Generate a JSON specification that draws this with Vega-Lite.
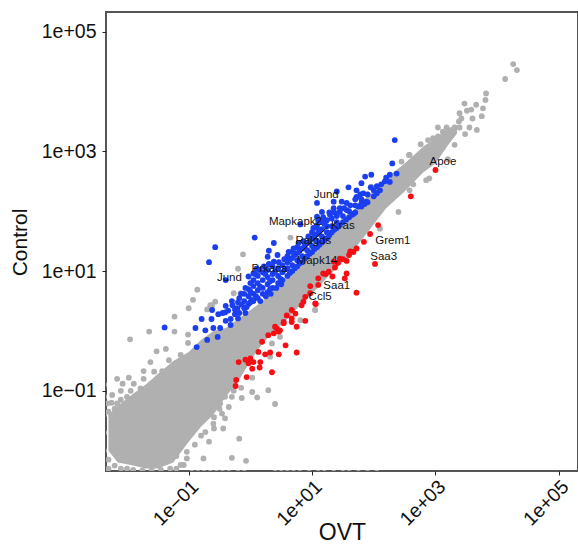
{"$schema":"https://vega.github.io/schema/vega-lite/v6.json","width":472,"height":459,"autosize":{"type":"none"},"padding":{"left":106,"top":12,"right":0,"bottom":74},"background":"white","view":{"stroke":"#555555","strokeWidth":2,"fill":"white"},
"datasets":{
"core":[{"x":-2.3,"lo":-2.0,"hi":-1.4},{"x":-2.15,"lo":-2.2,"hi":-1.25},{"x":-1.9,"lo":-2.25,"hi":-1.05},{"x":-1.7,"lo":-2.3,"hi":-0.9},{"x":-1.5,"lo":-2.3,"hi":-0.72},{"x":-1.25,"lo":-2.2,"hi":-0.5},{"x":-1.0,"lo":-1.85,"hi":-0.35},{"x":-0.8,"lo":-1.6,"hi":-0.15},{"x":-0.6,"lo":-1.4,"hi":0.0},{"x":-0.4,"lo":-1.1,"hi":0.05},{"x":-0.2,"lo":-0.85,"hi":0.2},{"x":0,"lo":-0.5,"hi":0.35},{"x":0.2,"lo":-0.2,"hi":0.5},{"x":0.4,"lo":0.0,"hi":0.7},{"x":0.6,"lo":0.2,"hi":0.9},{"x":0.8,"lo":0.42,"hi":1.15},{"x":1.0,"lo":0.62,"hi":1.3},{"x":1.3,"lo":0.95,"hi":1.65},{"x":1.6,"lo":1.25,"hi":1.95},{"x":1.9,"lo":1.65,"hi":2.25},{"x":2.2,"lo":2.05,"hi":2.55},{"x":2.5,"lo":2.33,"hi":2.8},{"x":2.8,"lo":2.65,"hi":3.08},{"x":3.0,"lo":2.8,"hi":3.22},{"x":3.2,"lo":3.1,"hi":3.38},{"x":3.35,"lo":3.3,"hi":3.42}],
"gray":[{"x":4.26,"y":4.46},{"x":4.32,"y":4.36},{"x":4.13,"y":4.21},{"x":3.82,"y":3.97},{"x":3.81,"y":3.86},{"x":3.47,"y":3.8},{"x":3.77,"y":3.72},{"x":3.66,"y":3.78},{"x":3.58,"y":3.7},{"x":3.51,"y":3.68},{"x":3.39,"y":3.64},{"x":3.42,"y":3.55},{"x":3.6,"y":3.55},{"x":3.75,"y":3.59},{"x":3.38,"y":3.5},{"x":3.55,"y":3.4},{"x":3.67,"y":3.36},{"x":3.48,"y":3.29},{"x":3.04,"y":3.4},{"x":3.18,"y":3.4},{"x":3.31,"y":3.4},{"x":3.39,"y":3.4},{"x":3.26,"y":3.36},{"x":3.12,"y":3.33},{"x":2.96,"y":3.22},{"x":3.04,"y":3.25},{"x":2.88,"y":3.19},{"x":2.76,"y":3.12},{"x":3.31,"y":3.11},{"x":3.12,"y":3.13},{"x":2.57,"y":2.94},{"x":3.2,"y":2.87},{"x":2.99,"y":2.97},{"x":2.9,"y":2.55},{"x":2.85,"y":2.52},{"x":2.64,"y":2.45},{"x":2.45,"y":2.83},{"x":2.4,"y":1.99},{"x":2.1,"y":1.71},{"x":2.58,"y":2.94},{"x":1.05,"y":0.35},{"x":0.81,"y":0.46},{"x":0.65,"y":1.56},{"x":-0.12,"y":1.28},{"x":-0.2,"y":1.04},{"x":-0.86,"y":0.69},{"x":-0.93,"y":0.52},{"x":-0.57,"y":0.49},{"x":-0.65,"y":0.43},{"x":-0.27,"y":0.63},{"x":-0.16,"y":0.63},{"x":0.11,"y":0.96},{"x":1.96,"y":2.41},{"x":2.58,"y":2.35},{"x":-1.23,"y":0.24},{"x":-1.64,"y":-0.01},{"x":-1.95,"y":-0.14},{"x":-1.23,"y":-0.01},{"x":-1.01,"y":-0.06},{"x":-1.01,"y":-0.2},{"x":-1.0,"y":0.38},{"x":-0.7,"y":0.36},{"x":-0.62,"y":0.43},{"x":-1.52,"y":-0.34},{"x":-1.37,"y":-0.3},{"x":-1.62,"y":-0.52},{"x":-1.73,"y":-0.67},{"x":-1.56,"y":-0.68},{"x":-1.43,"y":-0.67},{"x":-1.32,"y":-0.49},{"x":-1.13,"y":-0.4},{"x":-2.16,"y":-0.8},{"x":-1.97,"y":-0.78},{"x":-2.07,"y":-0.88},{"x":-1.73,"y":-0.8},{"x":-1.89,"y":-0.88},{"x":-2.1,"y":-1.0},{"x":-2.24,"y":-1.07},{"x":-1.94,"y":-1.0},{"x":-1.78,"y":-0.96},{"x":-2.32,"y":-1.21},{"x":-2.16,"y":-1.21},{"x":0.29,"y":-0.99},{"x":0.03,"y":-1.02},{"x":0.11,"y":-1.11},{"x":-0.14,"y":-1.12},{"x":0.4,"y":-1.22},{"x":-0.27,"y":-1.0},{"x":-0.35,"y":-1.27},{"x":-0.46,"y":-1.38},{"x":-0.41,"y":-1.46},{"x":-0.44,"y":-1.63},{"x":-0.59,"y":-1.63},{"x":-0.73,"y":-1.69},{"x":-0.67,"y":-1.85},{"x":-0.18,"y":-1.8},{"x":-0.3,"y":-2.12},{"x":-0.76,"y":-2.13},{"x":-0.07,"y":-2.17},{"x":-1.03,"y":-2.02},{"x":-1.2,"y":-2.09},{"x":-1.03,"y":-2.13},{"x":-1.13,"y":-2.24},{"x":-1.08,"y":-2.24},{"x":-1.29,"y":-1.94},{"x":-0.59,"y":-1.44},{"x":-0.49,"y":-1.21},{"x":0.32,"y":-0.43},{"x":0.03,"y":-0.78},{"x":0.35,"y":-0.21},{"x":0.48,"y":-0.1},{"x":0.81,"y":0.18},{"x":1.05,"y":0.35},{"x":-0.41,"y":-1.1},{"x":-0.9,"y":-1.9},{"x":-0.8,"y":-1.75},{"x":-0.6,"y":-1.55},{"x":-0.5,"y":-1.3},{"x":-0.3,"y":-1.1},{"x":-0.15,"y":-0.95},{"x":-2.3,"y":-1.35},{"x":-2.3,"y":-2.15},{"x":-2.3,"y":-2.3},{"x":-2.2,"y":-1.3},{"x":-2.2,"y":-2.25},{"x":-2.1,"y":-1.15},{"x":-2.1,"y":-2.3},{"x":-2.0,"y":-1.1},{"x":-2.0,"y":-2.3},{"x":-2.25,"y":-1.2},{"x":-1.9,"y":-2.32},{"x":-1.75,"y":-2.33},{"x":-1.6,"y":-2.33},{"x":-1.45,"y":-2.32},{"x":-1.3,"y":-2.3},{"x":-1.2,"y":-2.3},{"x":-2.37,"y":-0.9},{"x":-2.37,"y":-1.1},{"x":-2.37,"y":-1.4},{"x":-2.37,"y":-1.7},{"x":-2.37,"y":-2.0},{"x":-0.95,"y":-2.37},{"x":-0.85,"y":-2.37},{"x":-0.75,"y":-2.37},{"x":-0.65,"y":-2.37},{"x":-0.55,"y":-2.37},{"x":-0.45,"y":-2.37},{"x":-0.35,"y":-2.37},{"x":-0.2,"y":-2.37},{"x":-0.1,"y":-2.37},{"x":0.4,"y":-2.37},{"x":0.5,"y":-2.37},{"x":0.6,"y":-2.37},{"x":0.7,"y":-2.37},{"x":0.8,"y":-2.37},{"x":0.95,"y":-2.37},{"x":1.1,"y":-2.37},{"x":1.2,"y":-2.37},{"x":1.35,"y":-2.37},{"x":1.5,"y":-2.37},{"x":1.6,"y":-2.37},{"x":1.75,"y":-2.37},{"x":1.9,"y":-2.37},{"x":2.05,"y":-2.37}],
"blue":[{"x":2.34,"y":3.19},{"x":2.3,"y":2.8},{"x":1.96,"y":2.61},{"x":1.86,"y":2.58},{"x":1.8,"y":2.47},{"x":2.26,"y":2.61},{"x":2.37,"y":2.63},{"x":2.26,"y":2.49},{"x":1.59,"y":2.4},{"x":1.4,"y":2.33},{"x":1.35,"y":2.16},{"x":1.08,"y":2.14},{"x":1.48,"y":2.16},{"x":1.56,"y":2.14},{"x":1.72,"y":2.35},{"x":1.83,"y":2.3},{"x":1.72,"y":2.24},{"x":1.8,"y":2.13},{"x":1.88,"y":2.16},{"x":1.75,"y":2.08},{"x":2.1,"y":2.35},{"x":1.35,"y":2.05},{"x":1.16,"y":1.99},{"x":1.45,"y":1.99},{"x":1.56,"y":2.02},{"x":1.67,"y":1.96},{"x":1.08,"y":1.91},{"x":1.29,"y":1.94},{"x":1.4,"y":1.92},{"x":0.81,"y":1.78},{"x":1.08,"y":1.77},{"x":0.07,"y":1.56},{"x":-0.57,"y":1.4},{"x":-0.67,"y":1.15},{"x":-0.4,"y":0.85},{"x":-0.03,"y":0.91},{"x":0.38,"y":1.47},{"x":0.3,"y":1.34},{"x":0.28,"y":1.24},{"x":0.44,"y":1.27},{"x":-1.39,"y":0.06},{"x":-0.89,"y":0.05},{"x":-0.79,"y":0.2},{"x":-0.63,"y":0.2},{"x":-0.62,"y":0.35},{"x":-0.52,"y":0.28},{"x":-0.87,"y":-0.27},{"x":-0.7,"y":-0.15},{"x":-0.73,"y":0.01},{"x":-0.6,"y":0.05},{"x":-0.49,"y":0.05},{"x":-0.53,"y":-0.1},{"x":-0.32,"y":0.1},{"x":-0.4,"y":0.17},{"x":-0.41,"y":0.31},{"x":-0.29,"y":0.43},{"x":-0.21,"y":0.38},{"x":-0.2,"y":0.21},{"x":-0.08,"y":0.3},{"x":0,"y":0.48},{"x":-0.4,"y":0.42},{"x":-0.32,"y":0.2},{"x":-0.25,"y":0.28},{"x":-0.25,"y":0.36},{"x":-0.18,"y":0.3},{"x":-0.18,"y":0.55},{"x":-0.1,"y":0.38},{"x":-0.1,"y":0.5},{"x":-0.1,"y":0.62},{"x":-0.03,"y":0.45},{"x":-0.03,"y":0.58},{"x":-0.03,"y":0.7},{"x":0.05,"y":0.5},{"x":0.05,"y":0.62},{"x":0.05,"y":0.75},{"x":0.05,"y":0.85},{"x":0.12,"y":0.55},{"x":0.12,"y":0.68},{"x":0.12,"y":0.8},{"x":0.12,"y":0.92},{"x":0.2,"y":0.62},{"x":0.2,"y":0.72},{"x":0.2,"y":0.85},{"x":0.2,"y":0.98},{"x":0.28,"y":0.65},{"x":0.28,"y":0.78},{"x":0.28,"y":0.9},{"x":0.28,"y":1.02},{"x":0.36,"y":0.72},{"x":0.36,"y":0.85},{"x":0.36,"y":0.95},{"x":0.36,"y":1.08},{"x":0.45,"y":0.8},{"x":0.45,"y":0.92},{"x":0.45,"y":1.05},{"x":0.52,"y":0.85},{"x":0.52,"y":0.98},{"x":0.52,"y":1.1},{"x":0.6,"y":0.92},{"x":0.6,"y":1.05},{"x":0.6,"y":1.15},{"x":0.6,"y":1.25},{"x":0.68,"y":1.0},{"x":0.68,"y":1.1},{"x":0.68,"y":1.22},{"x":0.68,"y":1.32},{"x":0.76,"y":1.08},{"x":0.76,"y":1.18},{"x":0.76,"y":1.3},{"x":0.76,"y":1.4},{"x":0.84,"y":1.15},{"x":0.84,"y":1.25},{"x":0.84,"y":1.38},{"x":0.92,"y":1.25},{"x":0.92,"y":1.35},{"x":0.92,"y":1.47},{"x":1.0,"y":1.32},{"x":1.0,"y":1.42},{"x":1.0,"y":1.55},{"x":1.0,"y":1.65},{"x":1.08,"y":1.4},{"x":1.08,"y":1.5},{"x":1.08,"y":1.62},{"x":1.08,"y":1.72},{"x":1.16,"y":1.48},{"x":1.16,"y":1.58},{"x":1.16,"y":1.7},{"x":1.16,"y":1.82},{"x":1.24,"y":1.55},{"x":1.24,"y":1.65},{"x":1.24,"y":1.75},{"x":1.24,"y":1.85},{"x":1.32,"y":1.65},{"x":1.32,"y":1.75},{"x":1.32,"y":1.88},{"x":1.4,"y":1.72},{"x":1.4,"y":1.82},{"x":1.4,"y":1.95},{"x":1.5,"y":1.82},{"x":1.5,"y":1.92},{"x":1.6,"y":1.9},{"x":1.6,"y":2.0},{"x":1.7,"y":1.98},{"x":1.7,"y":2.1},{"x":1.7,"y":2.2},{"x":1.8,"y":2.08},{"x":1.8,"y":2.2},{"x":1.9,"y":2.15},{"x":1.9,"y":2.28},{"x":2.0,"y":2.25},{"x":2.0,"y":2.35},{"x":-0.14,"y":0.44},{"x":0.0,"y":0.66},{"x":0.09,"y":0.58},{"x":0.16,"y":0.74},{"x":0.24,"y":0.95},{"x":0.32,"y":0.7},{"x":0.32,"y":0.83},{"x":0.4,"y":0.99},{"x":0.49,"y":0.87},{"x":0.56,"y":1.03},{"x":0.64,"y":0.97},{"x":0.64,"y":1.19},{"x":0.72,"y":1.05},{"x":0.72,"y":1.27},{"x":0.8,"y":1.13},{"x":0.8,"y":1.34},{"x":0.88,"y":1.21},{"x":0.88,"y":1.42},{"x":0.96,"y":1.29},{"x":0.96,"y":1.5},{"x":1.04,"y":1.37},{"x":1.04,"y":1.58},{"x":1.12,"y":1.44},{"x":1.12,"y":1.66},{"x":1.2,"y":1.52},{"x":1.2,"y":1.79},{"x":1.28,"y":1.6},{"x":1.36,"y":1.69},{"x":1.45,"y":1.77},{"x":1.55,"y":1.86},{"x":1.65,"y":1.94},{"x":1.85,"y":2.12},{"x":2.05,"y":2.3},{"x":2.2,"y":2.56},{"x":-0.36,"y":0.34},{"x":-0.06,"y":0.4},{"x":-0.15,"y":0.62},{"x":-0.08,"y":0.72},{"x":0.0,"y":0.8},{"x":0.02,"y":0.52},{"x":0.08,"y":0.95},{"x":0.15,"y":1.02},{"x":0.22,"y":1.08},{"x":0.3,"y":1.12},{"x":0.38,"y":1.16},{"x":0.46,"y":1.15},{"x":0.25,"y":0.58},{"x":0.33,"y":0.62},{"x":0.42,"y":0.72},{"x":0.5,"y":0.78},{"x":0.16,"y":0.5},{"x":0.55,"y":1.2},{"x":0.62,"y":1.32},{"x":0.7,"y":1.38},{"x":0.78,"y":1.47},{"x":0.86,"y":1.5},{"x":0.94,"y":1.58},{"x":1.02,"y":1.72},{"x":1.1,"y":1.85},{"x":1.18,"y":1.9},{"x":1.28,"y":1.98},{"x":1.36,"y":1.98},{"x":1.45,"y":2.05},{"x":1.52,"y":2.05},{"x":1.62,"y":2.1},{"x":1.78,"y":2.28},{"x":1.95,"y":2.4},{"x":2.12,"y":2.45},{"x":2.18,"y":2.5},{"x":2.05,"y":2.42},{"x":0.05,"y":0.96},{"x":0.1,"y":1.04},{"x":-0.2,"y":0.48},{"x":-0.3,"y":0.5},{"x":-0.45,"y":0.3}],
"red":[{"x":-0.19,"y":-0.52},{"x":-0.08,"y":-0.48},{"x":0,"y":-0.46},{"x":0.05,"y":-0.52},{"x":0.16,"y":-0.52},{"x":0.03,"y":-0.63},{"x":0.15,"y":-0.61},{"x":-0.03,"y":-0.54},{"x":0.35,"y":-0.69},{"x":0.46,"y":-0.39},{"x":0.75,"y":-0.36},{"x":0.32,"y":-0.36},{"x":0.24,"y":-0.39},{"x":0.57,"y":-0.24},{"x":-0.24,"y":-0.92},{"x":-0.23,"y":-0.82},{"x":-0.06,"y":-0.77},{"x":0.13,"y":-0.35},{"x":0.19,"y":-0.18},{"x":0.29,"y":-0.07},{"x":0.38,"y":-0.04},{"x":0.43,"y":0.04},{"x":0.48,"y":0.01},{"x":0.54,"y":0.13},{"x":0.67,"y":0.15},{"x":0.75,"y":0.07},{"x":0.89,"y":0.17},{"x":0.59,"y":0.26},{"x":0.73,"y":0.29},{"x":0.83,"y":0.43},{"x":1.06,"y":0.45},{"x":0.86,"y":0.49},{"x":0.46,"y":-0.01},{"x":0.67,"y":0.21},{"x":3.0,"y":2.69},{"x":2.6,"y":2.25},{"x":1.94,"y":1.62},{"x":1.84,"y":1.49},{"x":2.02,"y":1.12},{"x":1.72,"y":0.64},{"x":1.72,"y":1.38},{"x":1.67,"y":1.32},{"x":1.6,"y":1.27},{"x":1.56,"y":1.17},{"x":1.45,"y":1.21},{"x":1.35,"y":1.16},{"x":1.37,"y":1.06},{"x":1.27,"y":0.99},{"x":1.33,"y":0.91},{"x":1.56,"y":0.96},{"x":1.53,"y":0.88},{"x":1.1,"y":0.77},{"x":0.97,"y":0.75},{"x":1.05,"y":0.46},{"x":0.89,"y":0.57},{"x":0.67,"y":0.35},{"x":0.54,"y":0.15},{"x":0.4,"y":0.07},{"x":2.07,"y":1.77},{"x":1.18,"y":0.96},{"x":1.1,"y":0.88},{"x":0.97,"y":0.63},{"x":1.62,"y":1.33},{"x":1.5,"y":1.2},{"x":1.42,"y":1.14},{"x":1.22,"y":0.95}],
"labels":[{"x":3.12,"y":2.82,"gene":"Apoe"},{"x":1.23,"y":2.27,"gene":"Jund"},{"x":0.73,"y":1.82,"gene":"Mapkapk2"},{"x":1.5,"y":1.75,"gene":"Kras"},{"x":1.02,"y":1.5,"gene":"Ralgds"},{"x":2.31,"y":1.5,"gene":"Grem1"},{"x":2.16,"y":1.23,"gene":"Saa3"},{"x":1.08,"y":1.17,"gene":"Mapk14"},{"x":0.31,"y":1.03,"gene":"Prkaca"},{"x":-0.34,"y":0.88,"gene":"Jund"},{"x":1.4,"y":0.75,"gene":"Saa1"},{"x":1.13,"y":0.57,"gene":"Ccl5"}],
"links":[{"x":1.26,"y":1.75,"x2":0.81,"y2":1.31}]
},
"layer":[
{"data":{"name":"core"},"mark":{"type":"area","color":"#B0B0B0","clip":true},"encoding":{"x":{"field":"x","type":"quantitative","scale":{"domain":[-2.34,5.31],"nice":false,"zero":false},"axis":{"values":[-1,1,3,5],"title":"OVT","grid":false,"domain":false,"labelExpr":"'1e' + (datum.value < 0 ? '−' : '+') + '0' + abs(datum.value)","labelAngle":-45,"labelAlign":"right","labelBaseline":"top","labelFont":"Liberation Sans","labelFontSize":19.5,"labelColor":"#111111","labelPadding":2,"tickColor":"#222222","tickSize":4,"titleFont":"Liberation Sans","titleFontSize":23,"titleFontWeight":"normal","titleColor":"#111111","titleBaseline":"alphabetic","titleY":68,"titleX":236}},"y":{"field":"lo","type":"quantitative","scale":{"domain":[-2.34,5.33],"nice":false,"zero":false},"axis":{"values":[-1,1,3,5],"title":"Control","grid":false,"domain":false,"labelExpr":"'1e' + (datum.value < 0 ? '−' : '+') + '0' + abs(datum.value)","labelFont":"Liberation Sans","labelFontSize":19.5,"labelColor":"#111111","labelPadding":6,"tickColor":"#222222","tickSize":4,"titleFont":"Liberation Sans","titleFontSize":21,"titleFontWeight":"normal","titleColor":"#111111","titleX":-76,"titleY":230}},"y2":{"field":"hi"}}},
{"data":{"name":"gray"},"mark":{"type":"circle","color":"#B0B0B0","size":34,"opacity":1,"clip":true},"encoding":{"x":{"field":"x","type":"quantitative"},"y":{"field":"y","type":"quantitative"}}},
{"data":{"name":"blue"},"mark":{"type":"circle","color":"#1B3FEF","size":34,"opacity":1,"clip":true},"encoding":{"x":{"field":"x","type":"quantitative"},"y":{"field":"y","type":"quantitative"}}},
{"data":{"name":"red"},"mark":{"type":"circle","color":"#F50F14","size":34,"opacity":1,"clip":true},"encoding":{"x":{"field":"x","type":"quantitative"},"y":{"field":"y","type":"quantitative"}}},
{"data":{"name":"links"},"mark":{"type":"rule","color":"#111111","strokeWidth":1},"encoding":{"x":{"field":"x","type":"quantitative"},"y":{"field":"y","type":"quantitative"},"x2":{"field":"x2"},"y2":{"field":"y2"}}},
{"data":{"name":"labels"},"mark":{"type":"text","font":"Liberation Sans","fontSize":11.5,"color":"#111111"},"encoding":{"x":{"field":"x","type":"quantitative"},"y":{"field":"y","type":"quantitative"},"text":{"field":"gene"}}}
]}
